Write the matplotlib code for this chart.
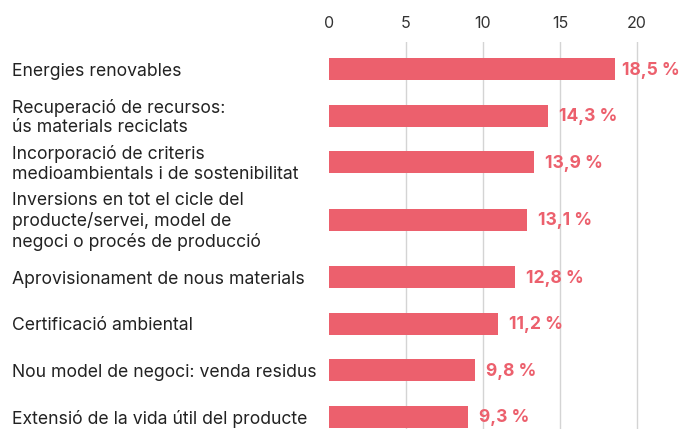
import matplotlib as mpl
mpl.use('Agg')
import matplotlib.pyplot as plt
import matplotlib.transforms as mtransforms

# Data
labels = ['Energies renovables',
          'Recuperació de recursos:\nús materials reciclats',
          'Incorporació de criteris\nmedioambientals i de sostenibilitat',
          'Inversions en tot el cicle del\nproducte/servei, model de\nnegoci o procés de producció',
          'Aprovisionament de nous materials',
          'Certificació ambiental',
          'Nou model de negoci: venda residus',
          'Extensió de la vida útil del producte']
values = [18.5, 14.3, 13.9, 13.1, 12.8, 11.2, 9.8, 9.3]          # printed labels
bar_lengths = [18.6, 14.2, 13.3, 12.85, 12.1, 11.0, 9.5, 9.0]     # bar ends as drawn
ticks = [0, 5, 10, 15, 20]

bar_color = '#ec606d'
plt.rcParams['font.family'] = ['Inter', 'DejaVu Sans']

# vertical spacing depends on number of label lines
heights = [46.5 if l.count('\n') < 2 else 68.5 for l in labels]
ypos = [0]
for i in range(1, len(labels)):
    ypos.append(ypos[-1] + (heights[i - 1] + heights[i]) / 2)

W, H = 681, 429
x0, px_per_unit = 329, 15.4
fig = plt.figure(figsize=(W / 100, H / 100), dpi=100)
ax = fig.add_axes([x0 / W, 0, 1 - x0 / W, (H - 42) / H])

ax.barh(ypos, bar_lengths, height=22, color=bar_color, zorder=3)
for y, b, v in zip(ypos, bar_lengths, values):
    off = 0.45 if b > 17 else 0.72
    ax.text(b + off, y + 1, '{:.1f} %'.format(v).replace('.', ','), va='center', ha='left',
            fontsize=12.6, fontweight='bold', color=bar_color, zorder=4)

lab_tr = mtransforms.blended_transform_factory(fig.transFigure, ax.transData)
for y, l in zip(ypos, labels):
    ax.text(12 / W, y + 2, l, transform=lab_tr, va='center', ha='left',
            fontsize=12.7, color='#222222', linespacing=1.2)

ax.set_xlim(0, (W - x0) / px_per_unit)
ax.set_ylim(ypos[-1] + 12, -27)
for t in ticks[1:]:
    ax.axvline(t, color='#d4d4d4', lw=1, zorder=1)
ax.set_yticks([])
ax.set_xticks(ticks)
ax.xaxis.tick_top()
ax.tick_params(axis='x', length=0, pad=8, labelsize=11.5, labelcolor='#333333')
for s in ax.spines.values():
    s.set_visible(False)

plt.savefig('out.png', dpi=100)
plt.close()
